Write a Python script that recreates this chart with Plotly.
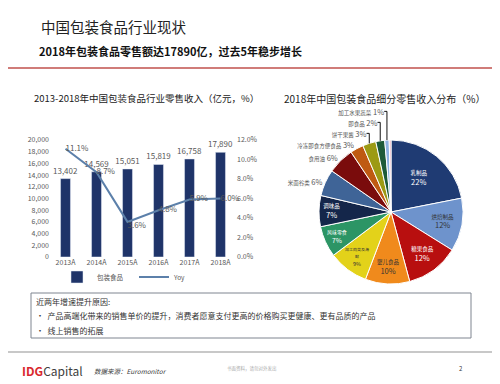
import plotly.graph_objects as go

# ---- data ----
years = ["2013A", "2014A", "2015A", "2016A", "2017A", "2018A"]
sales = [13402, 14569, 15051, 15819, 16758, 17890]
yoy = [11.1, 8.7, 3.6, 4.8, 5.9, 6.0]

seg_names = ["乳制品", "烘焙制品", "糖果食品", "婴儿食品", "加工肉类及海鲜", "风味零食", "调味品",
             "米面谷类", "食用油", "冷冻即食方便食品", "饼干果酱", "即食品", "加工水果蔬菜", "其他"]
seg_values = [22, 12, 12, 10, 9, 7, 7, 6, 6, 3, 3, 2, 1, 0.4]
seg_colors = ["#1F3B73", "#6E93CC", "#B80F0F", "#F08A1C", "#E3D21A", "#2C9565", "#14264A",
              "#3F6497", "#7A0C0C", "#BF5A12", "#9C9A14", "#1D5B39", "#8DB3E2", "#E7A4B4"]
seg_textcolor = ["white", "#333333", "white", "#333333", "#333333", "white", "white",
                 "#555555", "#555555", "#555555", "#555555", "#555555", "#555555", "#555555"]
seg_pos = ["inside"] * 7 + ["outside"] * 6 + ["none"]

FONT = "Noto Sans CJK SC, Noto Sans, sans-serif"
GREY = "#595959"
W, H = 500, 384
OFF = 8  # page body offset


def px(x):
    return (x - OFF) / W


def py(y):
    return 1 - (y - OFF) / H


def wrap(s, n=6):
    return "<br>".join(s[i:i + n] for i in range(0, len(s), n))


seg_text = []
for nm, v, pos in zip(seg_names, seg_values, seg_pos):
    if pos == "inside":
        seg_text.append(f"<span style='font-size:5.5px'>{wrap(nm)}</span><br>{int(v)}%")
    else:
        seg_text.append(f"<span style='font-size:5.5px'>{nm}</span> {int(v)}%")

fig = go.Figure()

fig.add_trace(go.Bar(
    x=years, y=sales, name="包装食品", marker_color="#1F3469", width=0.32,
    text=[f"{v:,}" for v in sales], textposition="outside", constraintext="none",
    textfont=dict(size=8, color=GREY), cliponaxis=False,
    xaxis="x", yaxis="y"))

fig.add_trace(go.Scatter(
    x=years, y=yoy, name="Yoy", mode="lines+text", line=dict(color="#5C80AA", width=2),
    text=[f"{v:.1f}%" for v in yoy],
    textposition=["middle right", "middle right", "bottom right", "middle right", "middle right", "middle right"],
    textfont=dict(size=8, color=GREY), cliponaxis=False,
    xaxis="x", yaxis="y2"))

fig.add_trace(go.Pie(
    labels=seg_names, values=seg_values, sort=False, direction="clockwise", rotation=0,
    marker=dict(colors=seg_colors, line=dict(color="white", width=1)),
    text=seg_text, textinfo="text", textposition=seg_pos,
    insidetextorientation="horizontal",
    textfont=dict(size=7.5, color=seg_textcolor, family=FONT),
    domain=dict(x=[px(319), px(463)], y=[py(284), py(140)]),
    showlegend=False, hoverinfo="label+value"))

fig.update_layout(
    width=W, height=H, margin=dict(l=0, r=0, t=0, b=0, autoexpand=False),
    paper_bgcolor="white", plot_bgcolor="white",
    font=dict(family=FONT, size=8, color=GREY),
    bargap=0.68,
    xaxis=dict(domain=[px(50), px(236)], anchor="y", showline=False, ticks="", showgrid=False,
               automargin=False, tickfont=dict(size=7, color=GREY)),
    yaxis=dict(domain=[py(257), py(140)], range=[0, 20000], dtick=2000, tickformat=",",
               showgrid=False, zeroline=False, automargin=False, tickfont=dict(size=7, color=GREY)),
    yaxis2=dict(range=[0, 12], dtick=2, tickformat=".1f", ticksuffix="%", overlaying="y",
                side="right", anchor="x", showgrid=False, zeroline=False, automargin=False,
                tickfont=dict(size=7, color=GREY)),
    legend=dict(orientation="h", x=px(134), xanchor="center", y=py(277), yanchor="middle",
                font=dict(size=6.5, color=GREY), bgcolor="rgba(0,0,0,0)",
                itemwidth=30, entrywidth=32, traceorder="normal"),
    showlegend=True,
)

shapes = [
    dict(type="line", xref="paper", yref="paper", x0=0, x1=1, y0=py(68), y1=py(68),
         line=dict(color="#C0504D", width=1.5)),
    dict(type="rect", xref="paper", yref="paper", x0=px(31), x1=px(471),
         y0=py(338), y1=py(293), line=dict(color="#7F8590", width=1)),
    dict(type="line", xref="paper", yref="paper", x0=0, x1=1, y0=py(352), y1=py(352),
         line=dict(color="#C8C8C8", width=2)),
]
fig.update_layout(shapes=shapes)


def ann(x, y, text, size, color="#222222", xanchor="left", bold=False, italic=False):
    t = text
    if bold:
        t = f"<b>{t}</b>"
    if italic:
        t = f"<i>{t}</i>"
    return dict(x=px(x), y=py(y), xref="paper", yref="paper", text=t, showarrow=False,
                xanchor=xanchor, yanchor="middle", borderpad=0,
                font=dict(size=size, color=color, family=FONT))


annotations = [
    ann(40, 26, "中国包装食品行业现状", 14.5, "#222222"),
    ann(38, 51, "2018年包装食品零售额达17890亿，过去5年稳步增长", 11, "#111111", bold=True),
    ann(146, 98, "2013-2018年中国包装食品行业零售收入（亿元，%）", 9.5, "#222222", xanchor="center"),
    ann(384, 98, "2018年中国包装食品细分零售收入分布（%）", 10, "#222222", xanchor="center"),
    ann(35, 301, "近两年增速提升原因:", 8, "#333333"),
    ann(35, 315, "•  产品高端化带来的销售单价的提升，消费者愿意支付更高的价格购买更健康、更有品质的产品", 8, "#333333"),
    ann(35, 330, "•  线上销售的拓展", 8, "#333333"),
    ann(21, 370, "<b><span style='color:#D9272E'>IDG</span></b><span style='color:#404040'>Capital</span>", 12),
    ann(93, 371, "数据来源：Euromonitor", 6.5, "#404040", italic=True),
    ann(252, 368, "书面资料，请勿对外发出", 4.5, "#AAAAAA", xanchor="center"),
    ann(461, 368, "2", 6, "#404040", xanchor="center"),
]
fig.update_layout(annotations=annotations)

fig.write_html("out.html")
